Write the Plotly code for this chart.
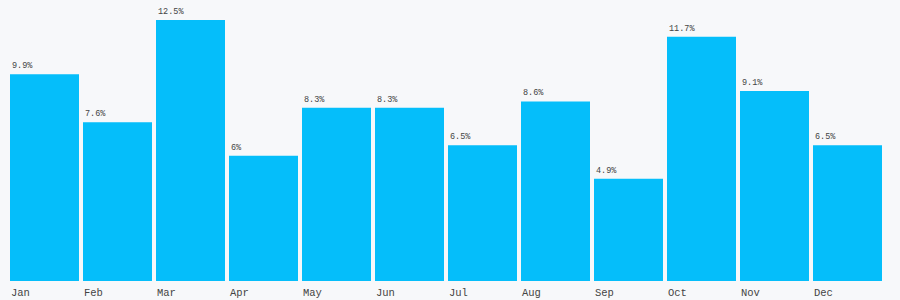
import plotly.graph_objects as go

months = ["Jan", "Feb", "Mar", "Apr", "May", "Jun", "Jul", "Aug", "Sep", "Oct", "Nov", "Dec"]
values = [9.9, 7.6, 12.5, 6, 8.3, 8.3, 6.5, 8.6, 4.9, 11.7, 9.1, 6.5]
labels = [f"{v:g}%" for v in values]

BAR = "#05BEFA"
BG = "#F7F8FA"
TXT = "#444444"
FONT = "Liberation Mono, DejaVu Sans Mono, monospace"

fig = go.Figure(go.Bar(x=months, y=values, marker=dict(color=BAR, line=dict(width=0)),
                       hoverinfo="skip"))

ann = []
for m, v, l in zip(months, values, labels):
    ann.append(dict(x=m, y=v, xref="x", yref="y", text=l, showarrow=False,
                    xanchor="left", yanchor="bottom", xshift=-35, yshift=1,
                    font=dict(family=FONT, size=8.5, color=TXT)))
    ann.append(dict(x=m, y=0, xref="x", yref="y", text=m, showarrow=False,
                    xanchor="left", yanchor="middle", xshift=-35.5, yshift=-11.5,
                    font=dict(family=FONT, size=10.5, color=TXT)))

fig.update_layout(
    width=900, height=300,
    margin=dict(l=8, r=16, t=0, b=19),
    paper_bgcolor=BG, plot_bgcolor=BG,
    bargap=4/73,
    showlegend=False,
    xaxis=dict(showticklabels=False, showgrid=False, zeroline=False, showline=False,
               ticks=""),
    yaxis=dict(range=[0, 281/20.88], showticklabels=False, showgrid=False,
               zeroline=False, showline=False, ticks=""),
    annotations=ann,
)

fig.write_html("out.html")
